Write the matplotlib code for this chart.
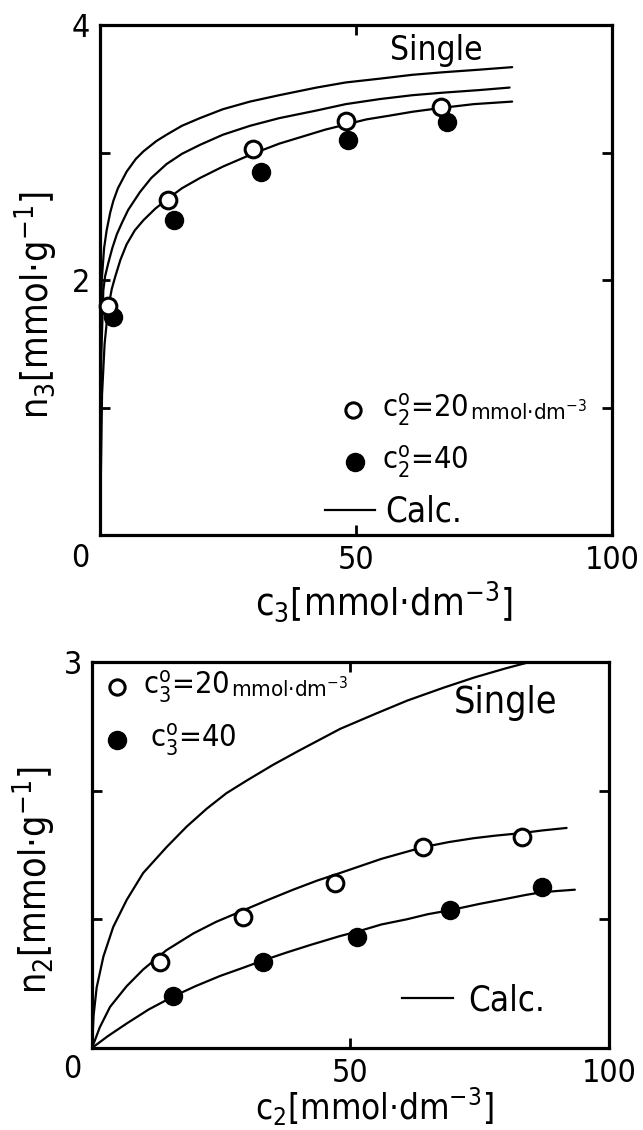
import matplotlib
matplotlib.use('Agg')
import matplotlib.pyplot as plt

plt.rcParams['font.family'] = ['DejaVu Sans']
plt.rcParams['font.stretch'] = 'condensed'
plt.rcParams['mathtext.fontset'] = 'custom'
plt.rcParams['mathtext.rm'] = 'DejaVu Sans:stretch=condensed'
plt.rcParams['mathtext.it'] = 'DejaVu Sans:stretch=condensed'
plt.rcParams['mathtext.default'] = 'regular'

# ---------------- data: top panel (n3 vs c3) ----------------
top_open_x = [1.6, 13.3, 29.8, 48.0, 66.6]
top_open_y = [1.80, 2.63, 3.03, 3.25, 3.36]
top_fill_x = [2.6, 14.5, 31.4, 48.5, 67.7]
top_fill_y = [1.71, 2.47, 2.85, 3.10, 3.24]

top_single_x = [0, 0.1, 0.35, 0.8, 1.3, 2.0, 2.6, 3.5, 5.2, 7.0, 8.5, 11.0, 13.0, 16.0, 19.5,
                24.0, 29.3, 35.0, 42.3, 48.0, 54.7, 61.0, 67.0, 74.0, 80.5]
top_single_y = [0, 1.20, 2.00, 2.25, 2.39, 2.53, 2.62, 2.72, 2.85, 2.95, 3.01, 3.09, 3.14, 3.21, 3.27,
                3.34, 3.40, 3.45, 3.51, 3.55, 3.58, 3.61, 3.63, 3.65, 3.67]
top_calc20_x = [0, 0.25, 0.65, 1.0, 1.6, 2.4, 3.3, 4.3, 5.5, 7.8, 10.0, 13.0, 16.0, 19.5, 24.0,
                29.3, 35.0, 42.3, 48.0, 54.7, 61.0, 67.0, 74.0, 80.0]
top_calc20_y = [0, 1.40, 1.92, 2.03, 2.13, 2.25, 2.36, 2.45, 2.55, 2.69, 2.80, 2.91, 2.99, 3.06, 3.14,
                3.21, 3.27, 3.33, 3.38, 3.42, 3.45, 3.47, 3.49, 3.51]
top_calc40_x = [0, 0.4, 0.9, 1.6, 2.3, 3.0, 4.0, 5.2, 6.8, 8.5, 10.8, 13.3, 16.0, 19.5, 24.0,
                29.8, 35.0, 39.1, 44.0, 48.0, 52.0, 56.6, 61.0, 66.6, 73.0, 80.5]
top_calc40_y = [0, 1.10, 1.50, 1.78, 1.93, 2.03, 2.16, 2.28, 2.39, 2.47, 2.56, 2.64, 2.72, 2.80, 2.89,
                2.99, 3.07, 3.12, 3.18, 3.22, 3.26, 3.29, 3.32, 3.35, 3.38, 3.40]

# ---------------- data: bottom panel (n2 vs c2) ----------------
bot_open_x = [13.2, 29.3, 47.0, 64.0, 83.1]
bot_open_y = [0.67, 1.02, 1.28, 1.56, 1.64]
bot_fill_x = [15.7, 33.1, 51.2, 69.2, 87.0]
bot_fill_y = [0.40, 0.67, 0.86, 1.07, 1.25]

bot_single_x = [0, 0.3, 0.9, 2.2, 4.1, 6.7, 9.9, 14.4, 18.3, 22.2, 26.0, 30.0, 35.0, 40.0, 48.0,
                55.0, 61.0, 68.0, 74.0, 80.0, 84.7]
bot_single_y = [0, 0.25, 0.47, 0.71, 0.94, 1.15, 1.36, 1.56, 1.72, 1.86, 1.98, 2.08, 2.20, 2.31, 2.48,
                2.60, 2.70, 2.80, 2.88, 2.95, 3.00]
bot_calc20_x = [0, 1.5, 3.5, 6.7, 9.9, 14.4, 19.6, 24.0, 29.3, 34.0, 38.9, 43.5, 48.0, 56.0, 64.0,
                69.0, 73.8, 78.0, 83.1, 87.0, 91.8]
bot_calc20_y = [0, 0.16, 0.32, 0.48, 0.61, 0.76, 0.89, 0.98, 1.07, 1.15, 1.23, 1.30, 1.36, 1.47, 1.56,
                1.60, 1.63, 1.65, 1.67, 1.69, 1.71]
bot_calc40_x = [0, 3.0, 6.7, 11.0, 15.7, 20.0, 24.8, 29.0, 33.1, 37.5, 42.2, 48.0, 51.8, 56.0, 60.9,
                65.0, 69.2, 75.0, 80.2, 84.0, 87.0, 90.0, 93.4]
bot_calc40_y = [0, 0.09, 0.19, 0.30, 0.40, 0.48, 0.56, 0.62, 0.68, 0.74, 0.80, 0.87, 0.91, 0.96, 1.00,
                1.04, 1.07, 1.12, 1.16, 1.19, 1.21, 1.22, 1.23]

top_yticks = [1, 2, 3, 4]
top_yticklabels = ['', '2', '', '4']
bot_yticks = [1, 2, 3]
bot_yticklabels = ['', '', '3']
xticks = [0, 50, 100]
xticklabels = ['', '50', '100']

LW = 1.6
MS = 13
FS = 23      # tick labels
AFS = 27     # axis labels
LFS = 22     # legend entries
CFS = 25     # "Calc."

fig = plt.figure(figsize=(6.43, 11.30), dpi=100)
ax1 = fig.add_axes([0.1555, 0.5265, 0.7963, 0.4513])
ax2 = fig.add_axes([0.1431, 0.0726, 0.8040, 0.3416])


def style(ax, ymax, yt, ytl):
    ax.set_xlim(0, 100)
    ax.set_ylim(0, ymax)
    for s in ax.spines.values():
        s.set_linewidth(2.3)
    ax.set_xticks(xticks)
    ax.set_xticklabels(xticklabels)
    ax.set_yticks(yt)
    ax.set_yticklabels(ytl)
    ax.tick_params(direction='in', length=7, width=2, top=True, right=True,
                   labelsize=FS, pad=7)


def curve(ax, xs, ys):
    ax.plot(xs, ys, color='black', lw=LW, zorder=3, solid_joinstyle='round', solid_capstyle='round')


def marks(ax, ox, oy, fx, fy):
    ax.plot(fx, fy, ls='none', marker='o', ms=MS, mfc='black', mec='black', zorder=5, clip_on=False)
    ax.plot(ox, oy, ls='none', marker='o', ms=MS - 1, mfc='white', mec='black', mew=2.2, zorder=6, clip_on=False)


# ---- top panel ----
style(ax1, 4, top_yticks, top_yticklabels)
for xs, ys in [(top_single_x, top_single_y), (top_calc20_x, top_calc20_y), (top_calc40_x, top_calc40_y)]:
    curve(ax1, xs, ys)
marks(ax1, top_open_x, top_open_y, top_fill_x, top_fill_y)
ax1.text(0.656, 0.951, 'Single', transform=ax1.transAxes, ha='center', va='center', fontsize=24)
ax1.set_xlabel('c$_3$[mmol·dm$^{-3}$]', fontsize=AFS, ha='center', va='center')
ax1.xaxis.set_label_coords(0.555, -0.13)
ax1.set_ylabel('n$_3$[mmol·g$^{-1}$]', fontsize=AFS, ha='center', va='center')
ax1.yaxis.set_label_coords(-0.125, 0.45)
ax1.text(-0.039, -0.045, '0', transform=ax1.transAxes, ha='center', va='center', fontsize=FS)
# legend
ax1.plot([0.494], [0.245], transform=ax1.transAxes, marker='o', ms=MS - 2, mfc='white', mec='black', mew=2.2)
ax1.plot([0.498], [0.143], transform=ax1.transAxes, marker='o', ms=MS, mfc='black', mec='black')
ax1.plot([0.439, 0.537], [0.049, 0.049], transform=ax1.transAxes, color='black', lw=LW)
t = ax1.text(0.551, 0.245, r'$c_2^o$=20', transform=ax1.transAxes, ha='left', va='center', fontsize=LFS)
ax1.annotate('mmol·dm$^{-3}$', xy=(1, 0), xycoords=t, ha='left', va='bottom', fontsize=16,
             xytext=(1, 3), textcoords='offset points')
ax1.text(0.551, 0.143, r'$c_2^o$=40', transform=ax1.transAxes, ha='left', va='center', fontsize=LFS)
ax1.text(0.557, 0.047, 'Calc.', transform=ax1.transAxes, ha='left', va='center', fontsize=CFS)

# ---- bottom panel ----
style(ax2, 3, bot_yticks, bot_yticklabels)
for xs, ys in [(bot_single_x, bot_single_y), (bot_calc20_x, bot_calc20_y), (bot_calc40_x, bot_calc40_y)]:
    curve(ax2, xs, ys)
marks(ax2, bot_open_x, bot_open_y, bot_fill_x, bot_fill_y)
ax2.text(0.799, 0.894, 'Single', transform=ax2.transAxes, ha='center', va='center', fontsize=27)
ax2.set_xlabel('c$_2$[mmol·dm$^{-3}$]', fontsize=25, ha='center', va='center')
ax2.xaxis.set_label_coords(0.547, -0.153)
ax2.set_ylabel('n$_2$[mmol·g$^{-1}$]', fontsize=AFS, ha='center', va='center')
ax2.yaxis.set_label_coords(-0.112, 0.435)
ax2.text(-0.039, -0.056, '0', transform=ax2.transAxes, ha='center', va='center', fontsize=FS)
# legend
ax2.plot([0.048], [0.935], transform=ax2.transAxes, marker='o', ms=MS - 2, mfc='white', mec='black', mew=2.2)
ax2.plot([0.048], [0.798], transform=ax2.transAxes, marker='o', ms=MS, mfc='black', mec='black')
ax2.plot([0.600, 0.698], [0.130, 0.130], transform=ax2.transAxes, color='black', lw=LW)
t2 = ax2.text(0.099, 0.935, r'$c_3^o$=20', transform=ax2.transAxes, ha='left', va='center', fontsize=LFS)
ax2.annotate('mmol·dm$^{-3}$', xy=(1, 0), xycoords=t2, ha='left', va='bottom', fontsize=16,
             xytext=(1, 3), textcoords='offset points')
ax2.text(0.112, 0.798, r'$c_3^o$=40', transform=ax2.transAxes, ha='left', va='center', fontsize=LFS)
ax2.text(0.727, 0.122, 'Calc.', transform=ax2.transAxes, ha='left', va='center', fontsize=CFS)

fig.savefig('out.png', dpi=100)
